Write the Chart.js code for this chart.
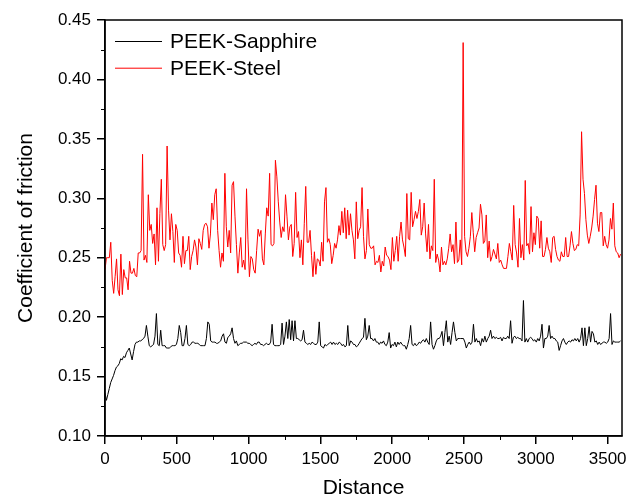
<!DOCTYPE html>
<html lang="en">
<head>
<meta charset="UTF-8">
<title>Coefficient of friction</title>
<script src="https://cdn.jsdelivr.net/npm/chart.js"></script>
<style>
  body { margin: 0; background: #fff; }
  #wrap { width: 627px; height: 499px; }
</style>
</head>
<body>
<div id="wrap"><canvas id="frictionChart"></canvas></div>
<script>
// sampled readings, evenly spaced over the distance range
const END_DISTANCE = 3590;

const sapphire = [
  0.136,0.130,0.135,0.140,0.145,0.148,0.151,0.155,0.158,0.159,
  0.161,0.165,0.164,0.167,0.166,0.170,0.172,0.174,0.169,0.164,
  0.171,0.177,0.179,0.179,0.180,0.180,0.181,0.182,0.184,0.193,
  0.184,0.176,0.175,0.176,0.177,0.184,0.203,0.177,0.176,0.189,
  0.176,0.176,0.176,0.174,0.174,0.174,0.175,0.176,0.176,0.176,
  0.177,0.182,0.193,0.187,0.176,0.176,0.182,0.193,0.177,0.176,
  0.177,0.179,0.179,0.178,0.178,0.178,0.177,0.176,0.176,0.176,
  0.176,0.182,0.196,0.194,0.180,0.179,0.179,0.179,0.178,0.178,
  0.179,0.180,0.184,0.186,0.179,0.178,
  0.183,0.184,0.186,0.191,0.182,0.178,0.180,0.176,0.177,0.178,
  0.178,0.179,0.179,0.179,0.178,0.178,0.177,0.176,0.177,0.178,
  0.177,0.179,0.179,0.177,0.177,0.176,0.177,0.178,0.177,0.177,
  0.179,0.194,0.177,0.176,0.176,0.176,0.176,0.177,0.195,0.177,
  0.184,0.196,0.182,0.198,0.181,0.197,0.180,0.197,0.182,0.182,
  0.181,0.180,0.181,0.189,0.179,0.178,0.177,0.178,0.177,0.179,
  0.178,0.177,0.177,0.179,0.196,0.176,0.175,0.174,0.177,0.176,
  0.177,0.178,0.179,0.177,0.179,0.177,0.178,0.177,0.179,0.178,
  0.176,0.177,0.175,0.176,
  0.193,0.176,0.180,0.179,0.177,0.177,0.175,0.176,0.178,0.180,
  0.182,0.183,0.199,0.181,0.184,0.193,0.182,0.182,0.180,0.182,
  0.179,0.179,0.177,0.179,0.178,0.180,0.177,0.176,0.179,0.187,
  0.174,0.177,0.176,0.179,0.175,0.179,0.177,0.179,0.177,0.176,
  0.176,0.173,0.177,0.182,0.193,0.177,0.176,0.178,0.176,0.177,
  0.179,0.178,0.180,0.181,0.179,0.182,0.179,0.177,0.196,0.177,
  0.173,0.176,0.180,0.182,0.182,0.184,0.188,0.176,0.187,0.197,
  0.179,0.184,0.177,0.187,0.196,0.187,0.180,0.182,0.182,0.182,
  0.182,0.182,0.179,0.174,0.177,0.179,0.177,0.179,
  0.194,0.179,0.182,0.179,0.180,0.176,0.182,0.179,0.184,0.179,
  0.182,0.184,0.189,0.182,0.184,0.182,0.183,0.182,0.182,0.183,
  0.180,0.183,0.182,0.182,0.184,0.182,0.197,0.178,0.183,0.184,
  0.182,0.183,0.182,0.182,0.180,0.214,0.179,0.182,0.179,0.182,
  0.183,0.182,0.180,0.181,0.179,0.182,0.180,0.184,0.194,0.174,
  0.182,0.182,0.184,0.193,0.182,0.184,0.182,0.182,0.180,0.179,
  0.172,0.176,0.180,0.182,0.179,0.177,0.179,0.180,0.179,0.181,
  0.180,0.182,0.180,0.182,0.179,0.182,0.191,0.176,0.191,0.176,
  0.182,0.192,0.179,0.188,0.186,0.179,0.180,0.177,0.179,0.177,
  0.178,0.179,0.179,0.178,0.179,0.182,0.203,0.177,0.180,0.179,
  0.179,0.179,0.179,0.180
];

const steel = [
  0.240,0.250,0.250,0.250,0.263,0.231,0.220,0.234,0.249,0.223,
  0.218,0.253,0.219,0.240,0.233,0.233,0.223,0.247,0.237,0.237,
  0.241,0.235,0.234,0.254,0.254,0.256,0.337,0.248,0.252,0.246,
  0.303,0.273,0.278,0.262,0.270,0.244,0.292,0.247,0.287,0.316,
  0.261,0.256,0.261,0.344,0.290,0.265,0.287,0.272,0.246,0.278,
  0.273,0.254,0.252,0.242,0.268,0.245,0.256,0.256,0.268,0.240,
  0.251,0.256,0.265,0.259,0.244,0.266,0.262,0.257,0.273,0.278,
  0.279,0.276,0.258,0.270,0.296,0.282,0.303,0.308,0.273,0.256,
  0.242,0.254,0.247,0.321,
  0.276,0.259,0.273,0.254,0.311,0.314,0.285,0.261,0.237,0.254,
  0.267,0.242,0.248,0.240,0.308,0.265,0.234,0.251,0.249,0.240,
  0.237,0.256,0.274,0.268,0.273,0.249,0.244,0.270,0.292,0.285,
  0.321,0.261,0.260,0.262,0.332,0.318,0.297,0.280,0.267,0.276,
  0.272,0.303,0.285,0.265,0.276,0.278,0.251,0.262,0.305,0.267,
  0.272,0.250,0.265,0.244,0.279,0.310,0.263,0.263,0.273,0.252,
  0.234,0.255,0.236,0.249,0.248,0.243,0.263,0.247,0.297,0.309,
  0.263,0.266,0.261,0.245,0.252,0.262,0.258,0.265,0.277,0.269,
  0.289,0.271,0.292,0.266,0.290,0.269,
  0.287,0.273,0.265,0.249,0.297,0.266,0.273,0.276,0.309,0.268,
  0.249,0.256,0.291,0.261,0.258,0.258,0.260,0.244,0.247,0.246,
  0.252,0.238,0.247,0.243,0.259,0.252,0.251,0.248,0.240,0.267,
  0.247,0.256,0.268,0.247,0.268,0.280,0.265,0.259,0.251,0.304,
  0.266,0.265,0.305,0.276,0.282,0.289,0.283,0.289,0.299,0.269,
  0.276,0.296,0.270,0.255,0.278,0.249,0.260,0.256,0.316,0.246,
  0.253,0.248,0.238,0.259,0.244,0.247,0.244,0.249,0.258,0.270,
  0.255,0.261,0.245,0.280,0.246,0.248,0.265,0.244,0.431,0.268,
  0.255,0.251,0.258,0.268,0.288,
  0.271,0.255,0.267,0.271,0.275,0.295,0.286,0.262,0.264,0.286,
  0.250,0.264,0.247,0.251,0.257,0.253,0.249,0.262,0.246,0.248,
  0.244,0.241,0.241,0.241,0.251,0.262,0.255,0.248,0.294,0.261,
  0.254,0.242,0.283,0.250,0.261,0.248,0.315,0.260,0.262,0.253,
  0.293,0.255,0.271,0.261,0.285,0.283,0.258,0.281,0.251,0.251,
  0.257,0.267,0.258,0.255,0.246,0.267,0.268,0.257,0.251,0.248,
  0.247,0.255,0.251,0.251,0.267,0.251,0.251,0.260,0.272,0.262,
  0.256,0.257,0.261,0.260,0.286,0.356,0.316,0.304,0.282,0.269,
  0.262,0.268,0.275,0.285,0.299,0.311,0.279,0.272,0.288,0.288,
  0.260,0.268,0.261,0.258,0.265,0.283,0.274,0.296,0.260,0.255,
  0.254,0.250,0.253
];

const xTicks = [0, 500, 1000, 1500, 2000, 2500, 3000, 3500];
const xMinorTicks = [250, 750, 1250, 1750, 2250, 2750, 3250];
const yTicks = [0.10, 0.15, 0.20, 0.25, 0.30, 0.35, 0.40, 0.45];
const yMinorTicks = [0.125, 0.175, 0.225, 0.275, 0.325, 0.375, 0.425];

function toPoints(values) {
  const step = END_DISTANCE / (values.length - 1);
  return values.map((v, i) => ({ x: i * step, y: v }));
}

const FONT = "'Liberation Sans', Arial, sans-serif";

// box frame, minor ticks and the in-plot legend
const extras = {
  id: 'extras',
  afterDraw(chart) {
    const { ctx, chartArea: a, scales: { x, y } } = chart;
    ctx.save();
    ctx.strokeStyle = '#000';
    ctx.lineWidth = 1.5;
    ctx.strokeRect(a.left, a.top, a.right - a.left, a.bottom - a.top);

    ctx.lineWidth = 1;
    ctx.beginPath();
    xMinorTicks.forEach(v => {
      const px = Math.round(x.getPixelForValue(v)) + 0.5;
      ctx.moveTo(px, a.bottom);
      ctx.lineTo(px, a.bottom + 4);
    });
    yMinorTicks.forEach(v => {
      const py = Math.round(y.getPixelForValue(v)) + 0.5;
      ctx.moveTo(a.left, py);
      ctx.lineTo(a.left - 4, py);
    });
    ctx.stroke();

    ctx.font = '21px ' + FONT;
    ctx.textBaseline = 'middle';
    chart.data.datasets.forEach((ds, i) => {
      const ly = 41.5 + i * 26.7;
      ctx.strokeStyle = ds.borderColor;
      ctx.lineWidth = 1;
      ctx.beginPath();
      ctx.moveTo(115, ly);
      ctx.lineTo(162, ly);
      ctx.stroke();
      ctx.fillStyle = '#000';
      ctx.fillText(ds.label, 170, ly + 1);
    });
    ctx.restore();
  }
};

new Chart(document.getElementById('frictionChart'), {
  type: 'line',
  data: {
    datasets: [
      { label: 'PEEK-Sapphire', data: toPoints(sapphire), borderColor: '#000000', borderWidth: 1, pointRadius: 0, tension: 0 },
      { label: 'PEEK-Steel', data: toPoints(steel), borderColor: '#ff0000', borderWidth: 1, pointRadius: 0, tension: 0 }
    ]
  },
  options: {
    responsive: true,
    maintainAspectRatio: false,
    animation: false,
    layout: { padding: { top: 20, right: 5, left: 0, bottom: 0 } },
    plugins: { legend: { display: false }, tooltip: { enabled: false } },
    scales: {
      x: {
        type: 'linear',
        min: 0,
        max: 3600,
        afterBuildTicks: s => { s.ticks = xTicks.map(v => ({ value: v })); },
        afterFit: s => { s.height = 63; s.paddingLeft = 0; s.paddingRight = 0; },
        grid: { drawOnChartArea: false, color: '#000', lineWidth: 1.5, tickLength: 8 },
        border: { color: '#000', width: 1.5 },
        ticks: { color: '#000', padding: 5, maxRotation: 0, font: { family: FONT, size: 17 }, callback: v => String(v) },
        title: { display: true, text: 'Distance', color: '#000', padding: { top: 0, bottom: 0 }, font: { family: FONT, size: 21, lineHeight: 1.0 } }
      },
      y: {
        min: 0.10,
        max: 0.45,
        afterBuildTicks: s => { s.ticks = yTicks.map(v => ({ value: v })); },
        afterFit: s => { s.width = 105; s.paddingTop = 0; s.paddingBottom = 0; },
        grid: { drawOnChartArea: false, color: '#000', lineWidth: 1.5, tickLength: 8 },
        border: { color: '#000', width: 1.5 },
        ticks: { color: '#000', padding: 6, font: { family: FONT, size: 17 }, callback: v => v.toFixed(2) },
        title: { display: true, text: 'Coefficient of friction', color: '#000', padding: { top: 14, bottom: 0 }, font: { family: FONT, size: 21 } }
      }
    }
  },
  plugins: [extras]
});
</script>
</body>
</html>
